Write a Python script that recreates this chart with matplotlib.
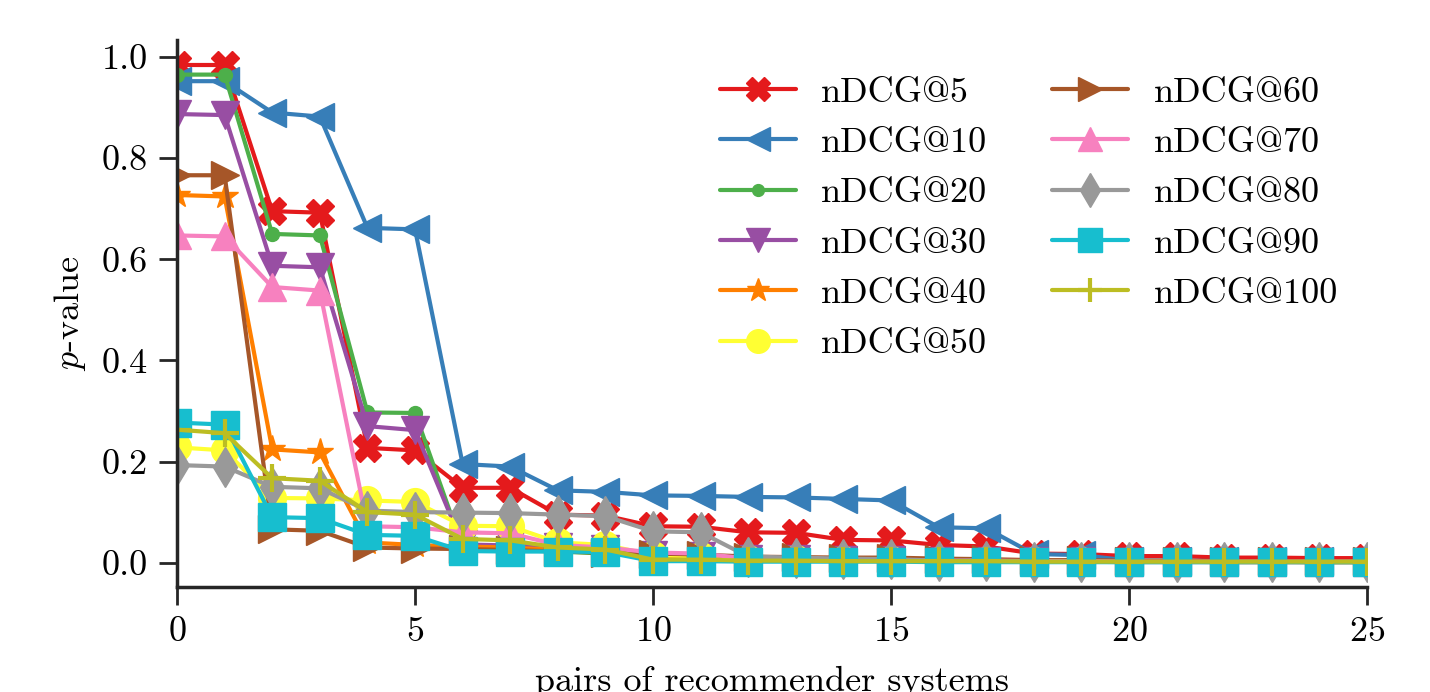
import matplotlib
matplotlib.use("Agg")
import matplotlib.pyplot as plt
import numpy as np

# p-values per pair of recommender systems, one list per cutoff
pairs = list(range(26))

ndcg5 = [0.984, 0.984, 0.695, 0.692, 0.227, 0.222, 0.148, 0.148, 0.095, 0.093,
         0.072, 0.071, 0.060, 0.059, 0.045, 0.044, 0.035, 0.032, 0.018, 0.017,
         0.013, 0.013, 0.010, 0.010, 0.009, 0.009]
ndcg10 = [0.952, 0.952, 0.890, 0.882, 0.662, 0.659, 0.195, 0.190, 0.143, 0.140,
          0.133, 0.132, 0.130, 0.129, 0.126, 0.123, 0.070, 0.068, 0.017, 0.015,
          0.004, 0.004, 0.003, 0.003, 0.003, 0.003]
ndcg20 = [0.965, 0.965, 0.650, 0.647, 0.297, 0.296, 0.030, 0.027, 0.022, 0.018,
          0.012, 0.010, 0.006, 0.006, 0.005, 0.005, 0.004, 0.004, 0.003, 0.003,
          0.002, 0.002, 0.002, 0.002, 0.002, 0.002]
ndcg30 = [0.887, 0.885, 0.587, 0.584, 0.270, 0.262, 0.036, 0.034, 0.030, 0.027,
          0.015, 0.013, 0.008, 0.007, 0.005, 0.005, 0.004, 0.004, 0.003, 0.003,
          0.002, 0.002, 0.002, 0.002, 0.001, 0.001]
ndcg40 = [0.727, 0.724, 0.224, 0.218, 0.040, 0.035, 0.032, 0.030, 0.025, 0.020,
          0.012, 0.010, 0.006, 0.005, 0.004, 0.004, 0.003, 0.003, 0.002, 0.002,
          0.002, 0.002, 0.001, 0.001, 0.001, 0.001]
ndcg50 = [0.228, 0.222, 0.128, 0.127, 0.123, 0.120, 0.073, 0.072, 0.040, 0.035,
          0.015, 0.013, 0.008, 0.007, 0.005, 0.005, 0.004, 0.004, 0.003, 0.003,
          0.002, 0.002, 0.002, 0.002, 0.001, 0.001]
ndcg60 = [0.766, 0.766, 0.066, 0.063, 0.030, 0.028, 0.027, 0.025, 0.022, 0.020,
          0.018, 0.016, 0.012, 0.011, 0.010, 0.010, 0.008, 0.007, 0.005, 0.005,
          0.004, 0.004, 0.003, 0.003, 0.003, 0.003]
ndcg70 = [0.647, 0.645, 0.545, 0.538, 0.072, 0.070, 0.060, 0.058, 0.035, 0.030,
          0.020, 0.018, 0.008, 0.007, 0.005, 0.005, 0.004, 0.004, 0.003, 0.003,
          0.002, 0.002, 0.002, 0.002, 0.002, 0.002]
ndcg80 = [0.193, 0.190, 0.150, 0.147, 0.103, 0.100, 0.099, 0.098, 0.095, 0.092,
          0.062, 0.060, 0.012, 0.010, 0.008, 0.007, 0.004, 0.004, 0.002, 0.002,
          0.001, 0.001, 0.001, 0.001, 0.001, 0.001]
ndcg90 = [0.277, 0.273, 0.090, 0.088, 0.055, 0.053, 0.023, 0.022, 0.022, 0.021,
          0.003, 0.003, 0.002, 0.002, 0.002, 0.002, 0.001, 0.001, 0.001, 0.001,
          0.001, 0.001, 0.001, 0.001, 0.001, 0.001]
ndcg100 = [0.263, 0.256, 0.167, 0.162, 0.100, 0.095, 0.047, 0.044, 0.030, 0.026,
           0.006, 0.006, 0.004, 0.004, 0.003, 0.003, 0.003, 0.003, 0.002, 0.002,
           0.002, 0.002, 0.002, 0.002, 0.002, 0.002]

labels = ["nDCG@5", "nDCG@10", "nDCG@20", "nDCG@30", "nDCG@40",
          "nDCG@50", "nDCG@60", "nDCG@70", "nDCG@80", "nDCG@90", "nDCG@100"]
series = [ndcg5, ndcg10, ndcg20, ndcg30, ndcg40, ndcg50,
          ndcg60, ndcg70, ndcg80, ndcg90, ndcg100]
colors = ["#e41a1c", "#377eb8", "#4daf4a", "#984ea3", "#ff7f00", "#ffff33",
          "#a65628", "#f781bf", "#999999", "#17becf", "#bcbd22"]
markers = ["X", "<", ".", "v", "*", "o", ">", "^", "d", "s", "+"]

plt.rcParams["font.family"] = "serif"
plt.rcParams["font.serif"] = ["cmr10"]
plt.rcParams["mathtext.fontset"] = "cm"
plt.rcParams["axes.formatter.use_mathtext"] = True
plt.rcParams["axes.unicode_minus"] = False

fig = plt.figure(figsize=(14.3, 6.92), dpi=100)
ax = fig.add_axes([0.1238, 0.1517, 0.8322, 0.7903])

for vals, lab, col, mk in zip(series, labels, colors, markers):
    mew = 3 if mk == "+" else 1
    ax.plot(pairs, vals, color=col, marker=mk, markersize=20, markeredgewidth=mew,
            linewidth=3, solid_capstyle="round", label=lab)

ax.set_xlim(0, 25)
ax.set_xticks([0, 5, 10, 15, 20, 25])
ax.set_yticks([0.0, 0.2, 0.4, 0.6, 0.8, 1.0])
ax.set_yticklabels(["0.0", "0.2", "0.4", "0.6", "0.8", "1.0"])
ax.set_xlabel("pairs of recommender systems", fontsize=26, labelpad=13)
ax.set_ylabel("$p$-value", fontsize=26, labelpad=10)
ax.tick_params(labelsize=26, length=13, width=2, pad=8, color="#262626")
for side in ["top", "right"]:
    ax.spines[side].set_visible(False)
for side in ["left", "bottom"]:
    ax.spines[side].set_linewidth(2.5)
    ax.spines[side].set_color("#262626")

ax.legend(ncol=2, frameon=False, fontsize=26, loc="upper left",
          bbox_to_anchor=(0.429, 0.993), handlelength=2.1, handletextpad=0.7,
          columnspacing=1.8, labelspacing=0.5, markerscale=0.85)

fig.savefig("out.png", dpi=100)
